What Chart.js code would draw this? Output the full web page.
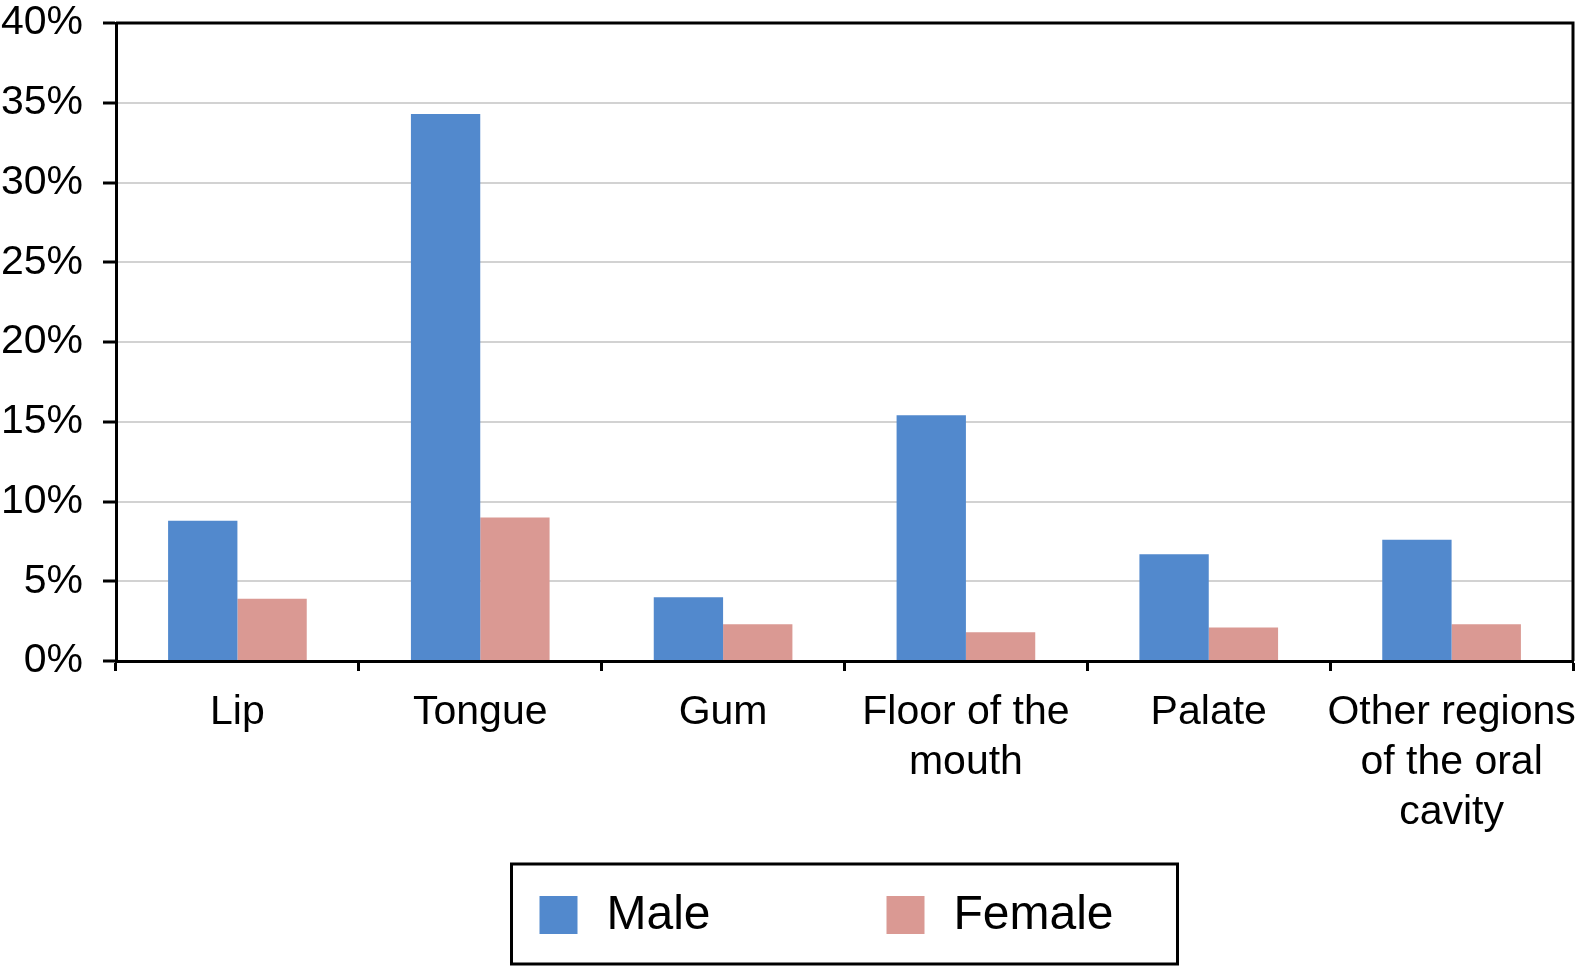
<!DOCTYPE html>
<html><head><meta charset="utf-8">
<script src="https://cdn.jsdelivr.net/npm/chart.js@4"></script>
<style>html,body{margin:0;padding:0;background:#fff}#wrap{width:1576px;height:967px}</style>
</head><body><div id="wrap"><canvas id="c" width="1576" height="967"></canvas></div>
<script>
const categories = ['Lip', 'Tongue', 'Gum', ['Floor of the', 'mouth'], 'Palate', ['Other regions', 'of the oral', 'cavity']];
const seriesNames = ['Male', 'Female'];
const maleValues = [8.8, 34.3, 4.0, 15.4, 6.7, 7.6];
const femaleValues = [3.9, 9.0, 2.3, 1.8, 2.1, 2.3];
const yTickValues = [0, 5, 10, 15, 20, 25, 30, 35, 40];
const yTickLabels = ['0%', '5%', '10%', '15%', '20%', '25%', '30%', '35%', '40%'];

const FONT = '"Liberation Sans", Arial, sans-serif';
const MALE_COLOR = '#5289CD';
const FEMALE_COLOR = '#DA9993';

const framePlugin = {
  id: 'frame',
  afterDatasetsDraw(chart) {
    const {ctx, chartArea: a} = chart;
    ctx.save();
    ctx.strokeStyle = '#000';
    ctx.lineWidth = 3;
    ctx.beginPath();
    ctx.moveTo(a.left, a.top);
    ctx.lineTo(a.right, a.top);
    ctx.lineTo(a.right, a.bottom);
    ctx.stroke();
    ctx.restore();
  },
  afterDraw(chart) {
    const {ctx, chartArea: a} = chart;
    const boxW = 666, boxH = 100, top = 864;
    const cx = (a.left + a.right) / 2;
    const left = cx - boxW / 2;
    ctx.save();
    ctx.strokeStyle = '#000';
    ctx.lineWidth = 3;
    ctx.strokeRect(left, top, boxW, boxH);
    const offsets = [28, 375];
    const midY = top + 51;
    ctx.font = '48px ' + FONT;
    ctx.textBaseline = 'middle';
    ctx.textAlign = 'left';
    chart.data.datasets.forEach((ds, i) => {
      const x = left + offsets[i];
      ctx.fillStyle = ds.backgroundColor;
      ctx.fillRect(x, midY - 19, 38, 38);
      ctx.fillStyle = '#000';
      ctx.fillText(ds.label, x + 67, midY + 1);
    });
    ctx.restore();
  }
};

new Chart(document.getElementById('c'), {
  type: 'bar',
  data: {
    labels: categories,
    datasets: [
      {label: seriesNames[0], data: maleValues, backgroundColor: MALE_COLOR},
      {label: seriesNames[1], data: femaleValues, backgroundColor: FEMALE_COLOR}
    ]
  },
  options: {
    responsive: false,
    devicePixelRatio: 1,
    animation: false,
    layout: {padding: {top: 23, right: 3, left: 0, bottom: 0}},
    plugins: {legend: {display: false}, tooltip: {enabled: false}},
    datasets: {bar: {categoryPercentage: 0.571, barPercentage: 1.0}},
    scales: {
      x: {
        grid: {offset: true, drawOnChartArea: false, drawTicks: true, tickLength: 10, tickColor: '#000', tickWidth: 3},
        border: {display: true, color: '#000', width: 3},
        ticks: {font: {family: FONT, size: 41, lineHeight: 1.22}, color: '#000', padding: 17, maxRotation: 0, autoSkip: false},
        afterFit(scale) { scale.height = 306; scale.paddingLeft = 0; scale.paddingRight = 0; }
      },
      y: {
        min: 0, max: 40,
        afterBuildTicks(scale) { scale.ticks = yTickValues.map(v => ({value: v})); },
        grid: {
          color: c => (c.tick && c.tick.value === 0) ? 'rgba(0,0,0,0)' : '#d2d2d2',
          lineWidth: 2, tickLength: 13, tickColor: '#000', tickWidth: 3, drawTicks: true
        },
        border: {display: true, color: '#000', width: 3},
        ticks: {
          font: {family: FONT, size: 41, lineHeight: 1}, color: '#000', padding: 20,
          callback: (v, i) => yTickLabels[yTickValues.indexOf(v)]
        },
        afterFit(scale) { scale.width = 116; scale.paddingTop = 0; scale.paddingBottom = 0; }
      }
    }
  },
  plugins: [framePlugin]
});
</script>
</body></html>
